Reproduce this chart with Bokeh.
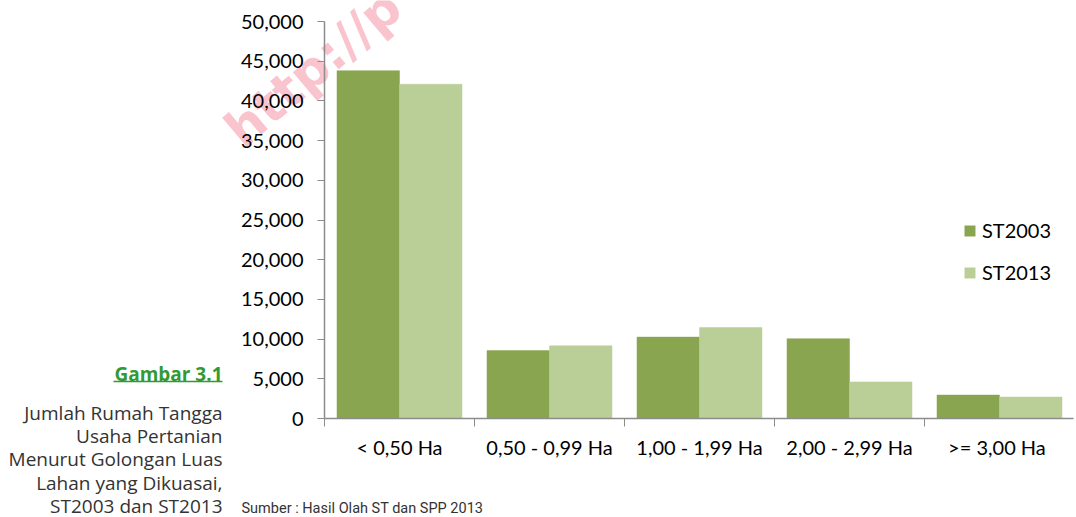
from bokeh.plotting import figure
from bokeh.layouts import column
from bokeh.models import (ColumnDataSource, FixedTicker, NumeralTickFormatter, Legend,
                          LegendItem, Range1d)
from bokeh.core.properties import value
from bokeh.embed import file_html
from bokeh.resources import INLINE

categories = ["< 0,50 Ha", "0,50 - 0,99 Ha", "1,00 - 1,99 Ha", "2,00 - 2,99 Ha", ">=  3,00 Ha"]
st2003 = [43800, 8550, 10250, 10050, 2950]
st2013 = [42100, 9150, 11450, 4600, 2700]
series_names = ["ST2003", "ST2013"]
y_ticks = [0, 5000, 10000, 15000, 20000, 25000, 30000, 35000, 40000, 45000, 50000]

caption_title = "Gambar 3.1"
caption_lines = ["Jumlah Rumah Tangga", "Usaha Pertanian", "Menurut Golongan Luas",
                 "Lahan yang Dikuasai,", "ST2003 dan ST2013"]
source_note = "Sumber : Hasil Olah ST dan SPP 2013"
watermark = "http://p"

C_DARK = "#8AA54F"
C_LIGHT = "#B9CF97"
AXIS_C = "#8C8C8C"
FONT = "Lato"

W, H = 1076, 517
FL, FT, FB, FR = 324, 21, 418, 1073   # frame edges in page pixels

# ---------- background page layer: caption, source note, watermark ----------
bg = figure(width=W, height=H, output_backend="svg", toolbar_location=None,
            min_border=0, x_range=Range1d(0, W), y_range=Range1d(H, 0),
            x_axis_type=None, y_axis_type=None)
bg.frame_align = False
bg.outline_line_color = None
bg.xgrid.grid_line_color = None
bg.ygrid.grid_line_color = None

bg.text(x=[232], y=[136], text=[watermark], angle=0.70,
        text_font=value("DejaVu Sans"), text_font_style="bold", text_font_size="50px",
        text_color="#F7B3C0", text_alpha=0.78, text_align="left", text_baseline="alphabetic")

CAP_X = 222
bg.text(x=[CAP_X], y=[373], text=[caption_title], text_font=value("Open Sans"),
        text_font_style="bold", text_font_size="19px", text_color="#339933",
        text_align="right", text_baseline="middle")
bg.segment(x0=[113], y0=[381], x1=[CAP_X], y1=[381], line_color="#339933", line_width=1.5)
line_y = [412, 435, 458, 482, 505]
bg.text(x=[CAP_X] * len(caption_lines), y=line_y, text=caption_lines,
        text_font=value("Open Sans"), text_font_size="19px", text_color="#333333",
        text_align="right", text_baseline="middle")
bg.text(x=[241], y=[508], text=[source_note], text_font=value("Roboto"),
        text_font_size="14.5px", text_color="#333333", text_align="left", text_baseline="middle")

# ---------- chart layer (transparent, stacked on top) ----------
p = figure(width=W, height=H, output_backend="svg", toolbar_location=None,
           min_border_left=FL, min_border_right=W - FR, min_border_top=FT, min_border_bottom=H - FB,
           x_range=Range1d(-0.5, -0.5 + (FR - FL) / 150), y_range=Range1d(0, 50000))
p.frame_align = False
p.margin = (-H, 0, 0, 0)
p.background_fill_alpha = 0
p.border_fill_alpha = 0
p.outline_line_color = None
p.xgrid.grid_line_color = None
p.ygrid.grid_line_color = None

idx = list(range(len(categories)))
src = ColumnDataSource(dict(
    x1=[i - 0.2083 for i in idx], x2=[i + 0.2083 for i in idx], a=st2003, b=st2013))
bw = 0.4167
r1 = p.vbar(x="x1", top="a", width=bw, bottom=0, source=src, fill_color=C_DARK, line_color=C_DARK, line_width=0.5)
r2 = p.vbar(x="x2", top="b", width=bw, bottom=0, source=src, fill_color=C_LIGHT, line_color=C_LIGHT, line_width=0.5)

xa = p.xaxis[0]
xa.ticker = FixedTicker(ticks=idx, minor_ticks=[i - 0.5 for i in range(len(categories) + 1)])
xa.major_label_overrides = {i: c for i, c in enumerate(categories)}
xa.major_tick_out = 0
xa.major_tick_in = 0
xa.minor_tick_out = 8
xa.minor_tick_in = 0
xa.minor_tick_line_color = AXIS_C
xa.axis_line_color = AXIS_C
xa.axis_line_width = 1.5
xa.major_label_text_font = FONT
xa.major_label_text_font_size = "20px"
xa.major_label_text_color = "#000000"
xa.major_label_standoff = 8

ya = p.yaxis[0]
ya.ticker = FixedTicker(ticks=y_ticks)
ya.formatter = NumeralTickFormatter(format="0,0")
ya.major_tick_out = 7
ya.major_tick_in = 0
ya.minor_tick_line_color = None
ya.major_tick_line_color = AXIS_C
ya.axis_line_color = AXIS_C
ya.axis_line_width = 1.5
ya.major_label_text_font = FONT
ya.major_label_text_font_size = "20px"
ya.major_label_text_color = "#000000"
ya.major_label_standoff = 14

legend = Legend(items=[LegendItem(label=series_names[0], renderers=[r1]),
                       LegendItem(label=series_names[1], renderers=[r2])],
                location=(963 - FL, 134), orientation="vertical",
                glyph_width=13, glyph_height=13, label_standoff=6, spacing=18,
                label_text_font=FONT, label_text_font_size="20px", label_text_color="#000000",
                padding=0, margin=0, border_line_color=None, background_fill_alpha=0)
p.add_layout(legend)

layout = column(bg, p, spacing=0)
open("out.html", "w").write(file_html(layout, INLINE))
